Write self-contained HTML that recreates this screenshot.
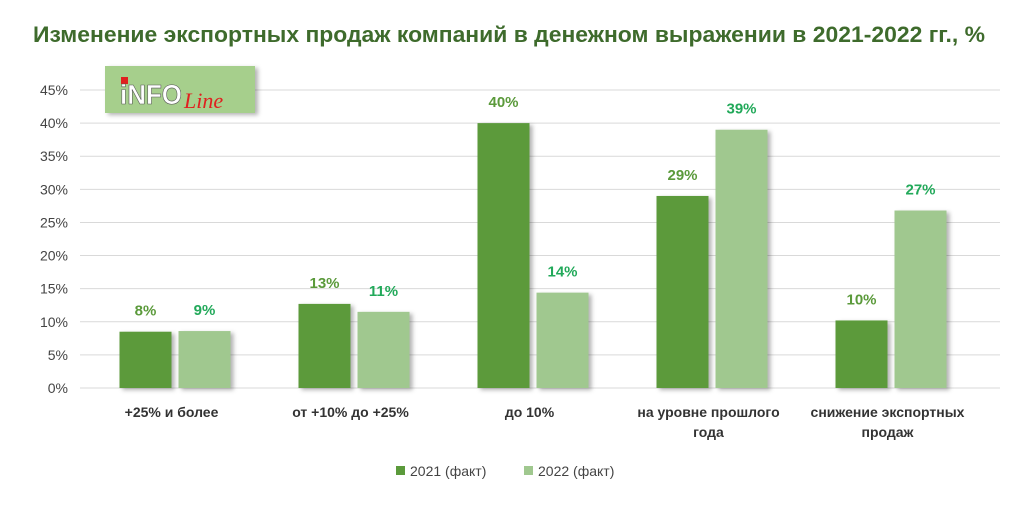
<!DOCTYPE html>
<html><head><meta charset="utf-8"><style>
body{margin:0;background:#fff;width:1024px;height:505px;overflow:hidden;font-family:"Liberation Sans","DejaVu Sans",sans-serif}
</style></head><body>
<svg id="c" width="1024" height="505" xmlns="http://www.w3.org/2000/svg">
<defs><filter id="sh" x="-20%" y="-20%" width="150%" height="150%"><feDropShadow dx="3" dy="2" stdDeviation="2" flood-color="#000" flood-opacity="0.3"/></filter></defs>
<text x="33" y="42" textLength="952" lengthAdjust="spacingAndGlyphs" font-size="22" font-weight="bold" fill="#3e6b2c">Изменение экспортных продаж компаний в денежном выражении в 2021-2022 гг., %</text>
<g id="grid"></g><g id="bars"></g>
<g>
<rect x="105" y="66" width="150" height="47" fill="#a6cf8c" filter="url(#sh)"/>
<rect x="121" y="77" width="7" height="7" fill="#e02020"/>
<text x="120" y="104" textLength="62" lengthAdjust="spacingAndGlyphs" font-size="28" font-weight="bold" fill="#fff" stroke="#555" stroke-width="0.6">iNFO</text>
<text x="184" y="108" font-size="22" font-style="italic" font-family="Liberation Serif,serif" fill="#e02020">Line</text>
</g>
<g>
<rect x="396" y="466" width="9" height="9" fill="#5b9a3b"/>
<text x="410" y="476" font-size="14" fill="#444">2021 (факт)</text>
<rect x="524" y="466" width="9" height="9" fill="#a0c88f"/>
<text x="538" y="476" font-size="14" fill="#444">2022 (факт)</text>
</g>
</svg>
<script>
const categories=[["+25% и более"],["от +10% до +25%"],["до 10%"],["на уровне прошлого","года"],["снижение экспортных","продаж"]];
const values2021=[8.5,12.7,40,29,10.2];
const values2022=[8.6,11.5,14.4,39,26.8];
const labels2021=["8%","13%","40%","29%","10%"];
const labels2022=["9%","11%","14%","39%","27%"];
const ticks=[0,5,10,15,20,25,30,35,40,45];
const NS="http://www.w3.org/2000/svg";
const x0=80,x1=1000,y0=388,yTop=90,vmax=45;
const y=v=>y0-(y0-yTop)*v/vmax;
const bw=179;
function mk(t,a,p){const e=document.createElementNS(NS,t);for(const k in a)e.setAttribute(k,a[k]);p.appendChild(e);return e;}
const g=document.getElementById('grid'),b=document.getElementById('bars');
ticks.forEach(t=>{
 const l=mk('line',{x1:x0,x2:x1,y1:y(t),y2:y(t),stroke:'#d9d9d9','stroke-width':1},g);
 
 
 const tx=mk('text',{x:68,y:y(t)+5,'text-anchor':'end','font-size':14,fill:'#444'},g);
 tx.textContent=t+'%';
 
 
});
categories.forEach((c,i)=>{
 const cx=x0+bw*i+bw/2;
 [[values2021,labels2021,'#5b9a3b','#5b9a3b',-50],[values2022,labels2022,'#a0c88f','#22a95a',9]].forEach((s,j)=>{
  const v=s[0][i];
  const r=mk('rect',{x:cx+s[4],y:y(v),width:52,height:y0-y(v),fill:s[2],filter:'url(#sh)'},b);
  
  
  const t=mk('text',{x:cx+s[4]+26,y:y(v)-16,'text-anchor':'middle','font-size':15,'font-weight':'bold',fill:s[3]},b);
  t.textContent=s[1][i];
  
  
 });
 c.forEach((line,k)=>{
  const t=mk('text',{x:cx+2,y:417+k*20,'text-anchor':'middle','font-size':14,'font-weight':'bold',fill:'#333'},b);
  t.textContent=line;
  
  
 });
});
</script>
</body></html>
